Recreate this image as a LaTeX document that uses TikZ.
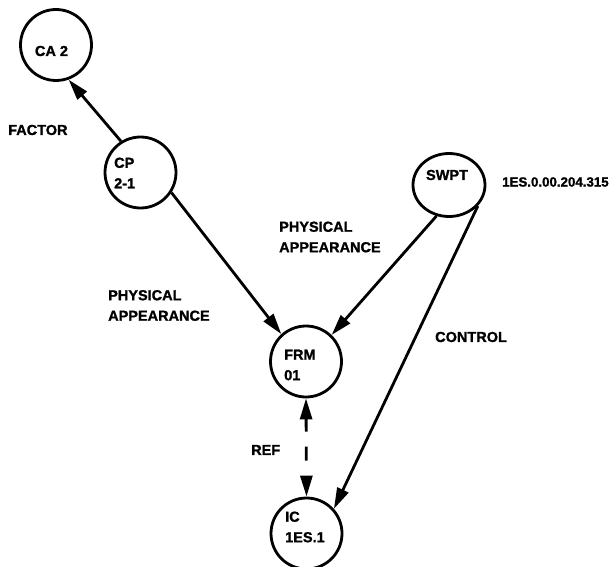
\documentclass[tikz,border=0pt]{standalone}
\usepackage{fontspec}
\setmainfont{Liberation Sans}
\newfontfamily\lblfont{Liberation Sans Bold}[FakeBold=1.3]
\usetikzlibrary{arrows.meta,shapes.geometric}
\tikzset{
  bubble/.style={draw, circle, line width=2.8pt, minimum size=71pt, inner sep=0pt},
  oval/.style={draw, ellipse, line width=2.8pt, minimum width=72pt, minimum height=63pt, inner sep=0pt},
  lbl/.style={font=\lblfont\fontsize{14.5}{20.5}\selectfont, inner sep=0pt, align=left},
  conn/.style={line width=2.8pt, -{Triangle[length=21pt,width=12pt]}},
  refconn/.style={line width=2.8pt, {Triangle[length=21pt,width=12pt]}-{Triangle[length=21pt,width=12pt]},
     dash pattern=on 13pt off 15pt on 14pt off 40pt}
}
\begin{document}
\begin{tikzpicture}[x=1pt,y=-1pt]
\useasboundingbox (0,0) rectangle (613,567);
% circles
\node[bubble] (ca2) at (56,45) {};
\node[bubble] (cp) at (140.5,172.5) {};
\node[oval] (swpt) at (449,185) {};
\node[bubble] (frm) at (306,361.5) {};
\node[bubble] (ic) at (306.5,533.5) {};
% texts inside circles
\node[lbl] (ca2t) at (51.5,51) {CA 2};
\node[lbl, anchor=west] (cpt) at (114,173) {CP\\2-1};
\node[lbl] (swptt) at (447,175) {SWPT};
\node[lbl, anchor=west] (frmt) at (284,365) {FRM\\01};
\node[lbl, anchor=west] (ict) at (285,527) {IC\\1ES.1};
% labels
\node[lbl, anchor=west] (factor) at (8,130) {FACTOR};
\node[lbl, anchor=west, font=\lblfont\fontsize{13.3}{16}\selectfont] (swptid) at (502,182) {1ES.0.00.204.315};
\node[lbl, anchor=west] (physr) at (279,237) {PHYSICAL\\APPEARANCE};
\node[lbl, anchor=west] (physl) at (108,305.5) {PHYSICAL\\APPEARANCE};
\node[lbl, anchor=west] (control) at (435,337) {CONTROL};
\node[lbl, anchor=west] (ref) at (251,450) {REF};
% connectors
\draw[conn] (cp.122) -- (ca2.-70);
\draw[conn] (cp.-33) -- (frm.132);
\draw[conn] (swpt.-112) -- (frm.46);
\draw[conn] (swpt.-36) -- (ic.42);
\draw[refconn] (frm.south) -- (ic.north);
\end{tikzpicture}
\end{document}
